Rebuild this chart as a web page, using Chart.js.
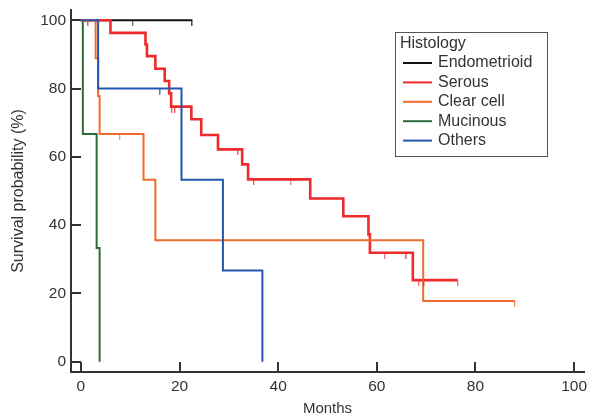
<!DOCTYPE html>
<html>
<head>
<meta charset="utf-8">
<script src="https://cdn.jsdelivr.net/npm/chart.js@4/dist/chart.umd.min.js"></script>
<style>
  html, body { margin: 0; padding: 0; background: #fff; }
  #wrap { width: 590px; height: 418px; }
</style>
</head>
<body>
<div id="wrap"><canvas id="kmChart"></canvas></div>
<script>
// Kaplan-Meier curves by histology
const groups = ['Endometrioid', 'Serous', 'Clear cell', 'Mucinous', 'Others'];
const colors = ['#111111', '#ee2a2c', '#f26b2e', '#2e6b3b', '#2357b0'];

// event times (months) and survival (%) after each step
const endoTimes = [0, 22.6];
const endoSurv = [100, 100];
const endoCensor = [10.5, 22.6];

const serousTimes = [0, 6.0, 13.1, 13.4, 15.1, 17.0, 17.9, 18.3, 22.4, 24.4, 27.8, 32.7, 33.9, 46.5, 53.2, 58.3, 58.6, 67.3, 76.4];
const serousSurv = [100, 96.3, 92.9, 89.5, 85.8, 82.2, 78.6, 74.7, 71.0, 66.4, 62.2, 57.8, 53.4, 47.8, 42.6, 37.3, 31.9, 23.9, 23.9];
const serousCensor = [1.5, 18.5, 19.1, 31.9, 35.1, 42.5, 61.6, 66.0, 68.5, 69.6, 76.4];

const clearTimes = [0, 3.0, 3.5, 3.8, 12.7, 15.1, 69.4, 88.0];
const clearSurv = [100, 88.9, 77.8, 66.7, 53.3, 35.6, 17.8, 17.8];
const clearCensor = [7.9, 88.0];

const mucTimes = [0, 0.4, 3.2, 3.8];
const mucSurv = [100, 66.7, 33.3, 0];
const mucCensor = [];

const otherTimes = [0, 3.5, 20.4, 28.8, 36.8];
const otherSurv = [100, 80, 53.3, 26.7, 0];
const otherCensor = [16.1];

const xTicks = [0, 20, 40, 60, 80, 100];
const yTicks = [0, 20, 40, 60, 80, 100];

const allTimes = [endoTimes, serousTimes, clearTimes, mucTimes, otherTimes];
const allSurv = [endoSurv, serousSurv, clearSurv, mucSurv, otherSurv];
const allCensor = [endoCensor, serousCensor, clearCensor, mucCensor, otherCensor];
const drawOrder = [4, 2, 1, 3, 0]; // lower = on top
const lineWidths = [2, 2.6, 2, 2, 2];

function survivalAt(times, surv, t) {
  let s = surv[0];
  for (let i = 0; i < times.length; i++) {
    if (times[i] <= t) s = surv[i];
  }
  return s;
}

// small downward tick used for censored cases
function censorMark(color) {
  const c = document.createElement('canvas');
  c.width = 2;
  c.height = 12;
  const g = c.getContext('2d');
  g.fillStyle = color;
  g.globalAlpha = 0.75;
  g.fillRect(0, 6, 1.3, 6);
  return c;
}

const datasets = [];
groups.forEach((name, i) => {
  datasets.push({
    label: name,
    data: allTimes[i].map((t, k) => ({ x: t, y: allSurv[i][k] })),
    borderColor: colors[i],
    borderWidth: lineWidths[i],
    stepped: 'before',
    pointRadius: 0,
    fill: false,
    order: drawOrder[i],
    isCurve: true
  });
});
groups.forEach((name, i) => {
  if (!allCensor[i].length) return;
  datasets.push({
    label: name + ' censored',
    type: 'scatter',
    data: allCensor[i].map(t => ({ x: t, y: survivalAt(allTimes[i], allSurv[i], t) })),
    pointStyle: censorMark(colors[i]),
    pointRadius: 5,
    showLine: false,
    order: -1
  });
});

const FONT = "'Liberation Sans', Arial, sans-serif";
const TEXT = '#333333';

// axis ticks pointing into the plot
const innerTicks = {
  id: 'innerTicks',
  beforeDatasetsDraw(chart) {
    const { ctx, scales: { x, y }, chartArea } = chart;
    ctx.save();
    ctx.strokeStyle = '#333333';
    ctx.lineWidth = 2;
    ctx.beginPath();
    xTicks.forEach(v => {
      const px = Math.round(x.getPixelForValue(v));
      ctx.moveTo(px, chartArea.bottom);
      ctx.lineTo(px, chartArea.bottom - 10);
    });
    yTicks.forEach(v => {
      const py = Math.round(y.getPixelForValue(v));
      ctx.moveTo(chartArea.left, py);
      ctx.lineTo(chartArea.left + 10, py);
    });
    ctx.stroke();
    ctx.restore();
  }
};

// boxed legend with a title
const histLegend = {
  id: 'histLegend',
  afterDraw(chart) {
    const ctx = chart.ctx;
    const bx = 395, by = 32, bw = 152, bh = 124;
    ctx.save();
    ctx.fillStyle = '#ffffff';
    ctx.fillRect(bx, by, bw, bh);
    ctx.strokeStyle = '#555555';
    ctx.lineWidth = 1;
    ctx.strokeRect(bx + 0.5, by + 0.5, bw, bh);
    ctx.font = '16px ' + FONT;
    ctx.fillStyle = TEXT;
    ctx.textBaseline = 'middle';
    ctx.fillText('Histology', bx + 5, by + 12);
    chart.data.datasets.filter(d => d.isCurve).forEach((d, i) => {
      const cy = by + 31 + i * 19.4;
      ctx.strokeStyle = d.borderColor;
      ctx.lineWidth = 2;
      ctx.beginPath();
      ctx.moveTo(bx + 8, cy);
      ctx.lineTo(bx + 37, cy);
      ctx.stroke();
      ctx.fillStyle = TEXT;
      ctx.fillText(d.label, bx + 43, cy);
    });
    ctx.restore();
  }
};

new Chart(document.getElementById('kmChart'), {
  type: 'line',
  data: { datasets: datasets },
  options: {
    responsive: true,
    maintainAspectRatio: false,
    animation: false,
    layout: { padding: { left: 0, top: 10, right: 2, bottom: 0 } },
    plugins: {
      legend: { display: false },
      tooltip: { enabled: false }
    },
    scales: {
      x: {
        type: 'linear',
        min: -2,
        max: 102,
        afterBuildTicks: s => { s.ticks = xTicks.map(v => ({ value: v })); },
        afterFit: s => { s.height = 46; s.paddingLeft = 0; s.paddingRight = 0; },
        grid: { display: false, drawTicks: false },
        border: { display: true, color: '#333333', width: 2 },
        ticks: { color: TEXT, font: { family: FONT, size: 15.5 }, padding: 5, maxRotation: 0 },
        title: { display: true, text: 'Months', color: TEXT, font: { family: FONT, size: 15 }, padding: { top: 0, bottom: 0 } }
      },
      y: {
        type: 'linear',
        min: -3,
        max: 103,
        afterBuildTicks: s => { s.ticks = yTicks.map(v => ({ value: v })); },
        afterFit: s => { s.width = 71; s.paddingTop = 0; s.paddingBottom = 0; },
        grid: { display: false, drawTicks: false },
        border: { display: true, color: '#333333', width: 2 },
        ticks: { color: TEXT, font: { family: FONT, size: 15.5 }, padding: 5 },
        title: { display: true, text: 'Survival probability (%)', color: TEXT, font: { family: FONT, size: 16 }, padding: { top: 9, bottom: 0 } }
      }
    }
  },
  plugins: [innerTicks, histLegend]
});
</script>
</body>
</html>
